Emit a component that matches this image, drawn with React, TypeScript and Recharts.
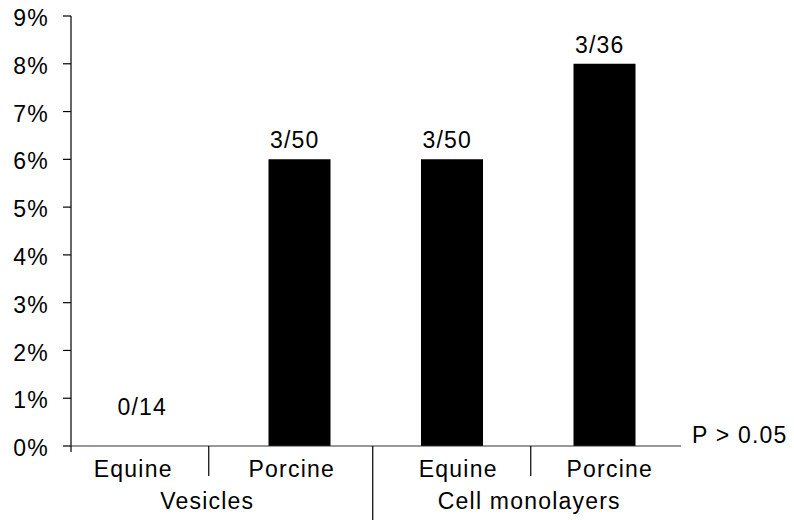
import React from 'react';
import { ComposedChart, Bar, Line, XAxis, YAxis, LabelList, Label } from 'recharts';

const categories = ['Equine', 'Porcine', 'Equine', 'Porcine'];
const groups = ['Vesicles', 'Cell monolayers'];
const rates = [0, 0.06, 0.06, 0.08];
const counts = ['0/14', '3/50', '3/50', '3/36'];
const yTicks = [0, 0.01, 0.02, 0.03, 0.04, 0.05, 0.06, 0.07, 0.08, 0.09];
const pValueText = 'P > 0.05';

const data = categories.map((name, i) => ({ name, rate: rates[i], count: counts[i] }));

const FONT = '"Liberation Sans", Arial, Helvetica, sans-serif';
const FS = 23;
const LS = 1.2;

const XTick = (props: any) => {
  const { x, y, index, payload } = props;
  const labelDx = [-14, -8, 6, 5][index] ?? 0;
  const els: React.ReactNode[] = [];
  els.push(
    <text key="t" x={x + labelDx} y={y + 31} textAnchor="middle" fontSize={FS} fontFamily={FONT} letterSpacing={LS} fill="#000">
      {payload.value}
    </text>
  );
  if (index === 0) {
    els.push(<line key="s" x1={x + 61.5} x2={x + 61.5} y1={y} y2={y + 30} stroke="#000" strokeWidth={1.2} />);
    els.push(
      <text key="g" x={x + 60} y={y + 63} textAnchor="middle" fontSize={FS} fontFamily={FONT} letterSpacing={LS} fill="#000">
        {groups[0]}
      </text>
    );
  }
  if (index === 1) {
    els.push(<line key="s" x1={x + 73} x2={x + 73} y1={y} y2={y + 74} stroke="#000" strokeWidth={1.2} />);
  }
  if (index === 2) {
    els.push(<line key="s" x1={x + 78.5} x2={x + 78.5} y1={y} y2={y + 30} stroke="#000" strokeWidth={1.2} />);
    els.push(
      <text key="g" x={x + 77} y={y + 63} textAnchor="middle" fontSize={FS} fontFamily={FONT} letterSpacing={LS} fill="#000">
        {groups[1]}
      </text>
    );
  }
  return <g>{els}</g>;
};

const YTick = (props: any) => {
  const { x, y, payload } = props;
  return (
    <g>
      <text x={x} y={y + 2} dy="0.355em" textAnchor="end" fontSize={FS} fontFamily={FONT} letterSpacing={LS} fill="#000">
        {`${Math.round(payload.value * 100)}%`}
      </text>
      {payload.value === 0 ? <line x1={x + 22} x2={x + 22} y1={y} y2={y + 6} stroke="#000" strokeWidth={1.2} /> : null}
    </g>
  );
};

const PointLabel = (props: any) => {
  const { x, y, value, index } = props;
  const off = rates[index] > 0 ? 11 : 31;
  return (
    <text x={x - 5} y={y - off} textAnchor="middle" fontSize={FS} fontFamily={FONT} letterSpacing={LS} fill="#000">
      {value}
    </text>
  );
};

export default function App() {
  return (
    <div style={{ position: 'absolute', left: 0, top: 0, width: 794, height: 520, background: '#fff' }}>
      <ComposedChart width={794} height={520} data={data} margin={{ top: 16, right: 113, bottom: 0, left: 0 }} barSize={62}>
        <YAxis
          width={71}
          domain={[0, 0.09]}
          ticks={yTicks}
          interval={0}
          tickSize={8}
          tickMargin={14}
          tick={<YTick />}
          axisLine={{ stroke: '#000', strokeWidth: 1.2 }}
          tickLine={{ stroke: '#000', strokeWidth: 1.2 }}
        />
        <XAxis
          dataKey="name"
          height={74}
          tickSize={0}
          tickMargin={0}
          interval={0}
          tick={<XTick />}
          axisLine={{ stroke: '#333', strokeWidth: 1.2 }}
        >
          <Label
            content={(p: any) => {
              const vb = p.viewBox;
              return (
                <text x={vb.x + vb.width + 11} y={vb.y - 3} fontSize={FS} fontFamily={FONT} letterSpacing={LS} fill="#000">
                  {pValueText}
                </text>
              );
            }}
          />
        </XAxis>
        <Bar dataKey="rate" fill="#000" isAnimationActive={false} />
        <Line dataKey="rate" stroke="none" dot={false} activeDot={false} isAnimationActive={false}>
          <LabelList dataKey="count" content={<PointLabel />} />
        </Line>
      </ComposedChart>
    </div>
  );
}
